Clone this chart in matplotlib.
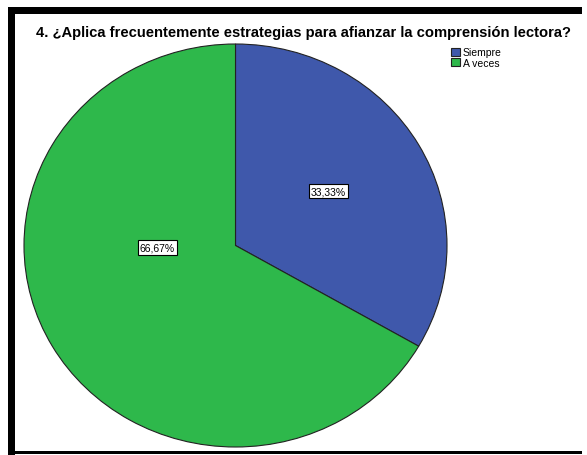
import numpy as np
import matplotlib.pyplot as plt
from matplotlib.patches import Rectangle

# data
categorias = ['Siempre', 'A veces']
porcentajes = [33.33, 66.67]
colores = ['#3F58AB', '#2EB84B']
titulo = '4. ¿Aplica frecuentemente estrategias para afianzar la comprensión lectora?'

W, H = 587, 456
fig = plt.figure(figsize=(W / 100, H / 100), dpi=100)
fig.patch.set_facecolor('white')

def px(x0, y0, x1, y1):
    # pixel box (top-down) -> figure fraction [left, bottom, width, height]
    return [x0 / W, 1 - y1 / H, (x1 - x0) / W, (y1 - y0) / H]

# black frame around the chart
for box in [(8, 8, 15, 456), (8, 8, 582, 15), (8, 452, 582, 455)]:
    l, b, w, h = px(*box)
    fig.add_artist(Rectangle((l, b), w, h, transform=fig.transFigure,
                             facecolor='black', edgecolor='none'))

plt.rcParams['font.family'] = ['Liberation Sans', 'DejaVu Sans']

ax = fig.add_axes(px(24, 45, 447, 448))
wedges, texts, autotexts = ax.pie(porcentajes, colors=colores, startangle=90,
                                  counterclock=False, autopct='%1.2f%%',
                                  pctdistance=0.52,
                                  wedgeprops=dict(edgecolor='#222222', linewidth=0.8),
                                  textprops=dict(fontsize=7.5))
ax.set_aspect('auto')
ax.set_xlim(-1, 1)
ax.set_ylim(-1, 1)

# SPSS puts the big-slice label near the middle
label_pos = [(0.44, 0.27), (-0.37, -0.01)]
for t, pos in zip(autotexts, label_pos):
    t.set_text(t.get_text().replace('.', ','))
    t.set_position(pos)
    t.set_bbox(dict(facecolor='white', edgecolor='black', linewidth=0.8, pad=1.5))

fig.text(304 / W, 1 - 33 / H, titulo, ha='center', va='center',
         fontsize=10.6, fontweight='bold')

leg = fig.legend(wedges, categorias, loc='upper left',
                 bbox_to_anchor=(444 / W, 1 - 41 / H), frameon=False,
                 fontsize=7.5, handlelength=0.8, handleheight=0.8,
                 handletextpad=0.3, labelspacing=0.05, borderpad=0.2)

fig.savefig('out.png', dpi=100)
